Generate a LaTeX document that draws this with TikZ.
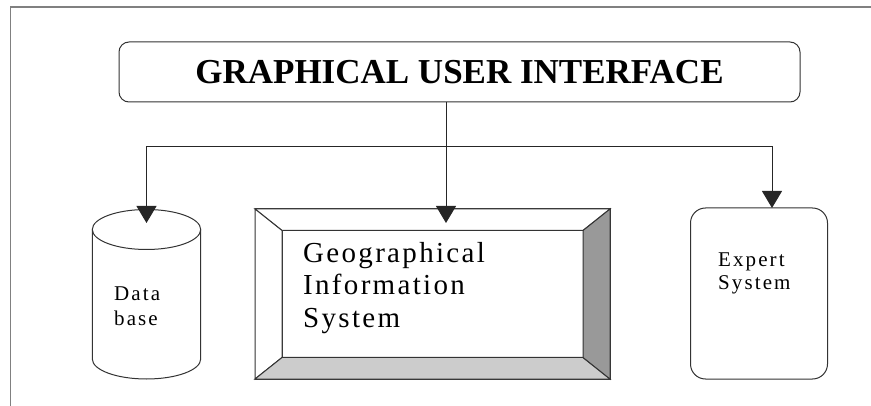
\documentclass[tikz,border=0pt]{standalone}
\usepackage{fontspec}
\setmainfont{Liberation Serif}
\newfontfamily\spcA[LetterSpace=8]{Liberation Serif}
\newfontfamily\spcB[LetterSpace=10]{Liberation Serif}
\usetikzlibrary{arrows.meta}
\definecolor{bevelbot}{HTML}{CCCCCC}
\definecolor{bevelright}{HTML}{999999}
\begin{document}
\begin{tikzpicture}[x=1pt,y=-1pt,
  line/.style={draw=black!80, line width=1pt},
  conn/.style={draw=black!85, line width=1pt, -{Triangle[length=17pt,width=20pt]}},
  lbl/.style={anchor=base west, inner sep=0pt, text=black},
  blank/.style={inner sep=0pt, outer sep=0pt},
  gisfont/.style={font=\spcA\fontsize{29}{32}\selectfont},
  smallfont/.style={font=\spcB\fontsize{21}{24}\selectfont},
]
\useasboundingbox (0,0) rectangle (871,406);
% frame
\draw[draw=black!50, line width=1.5pt] (10.5,406) -- (10.5,7) -- (871,7);
% GUI
\node[line, rounded corners=10pt, blank, minimum width=681pt, minimum height=60pt,
      font=\fontsize{35}{40}\selectfont\bfseries] (gui) at (459.5,72) {GRAPHICAL USER INTERFACE};
% GIS bevel box
\node[line, blank, minimum width=355pt, minimum height=170pt] (gis) at (432.5,294) {};
\node[line, blank, minimum width=301pt, minimum height=127pt] (gisin) at (432.5,294) {};
\filldraw[line, fill=white] (gis.north west) -- (gis.north east) -- (gisin.north east) -- (gisin.north west) -- cycle;
\filldraw[line, fill=white] (gis.north west) -- (gisin.north west) -- (gisin.south west) -- (gis.south west) -- cycle;
\filldraw[line, fill=bevelbot] (gis.south west) -- (gisin.south west) -- (gisin.south east) -- (gis.south east) -- cycle;
\filldraw[line, fill=bevelright] (gis.north east) -- (gis.south east) -- (gisin.south east) -- (gisin.north east) -- cycle;
\node[lbl, gisfont] (gis1) at (303,262.3) {Geographical};
\node[lbl, gisfont] (gis2) at (303,295) {Information};
\node[lbl, gisfont] (gis3) at (303,327.3) {System};
% Database cylinder
\node[blank, minimum width=108.4pt, minimum height=170pt] (db) at (146.5,294) {};
\draw[line, fill=white] (92.3,229.5) -- (92.3,359) arc[start angle=180, end angle=0, x radius=54.2, y radius=20] -- (200.7,229.5);
\draw[line] (146.5,229.5) ellipse[x radius=54.2, y radius=20];
\node[lbl, smallfont] (db1) at (114,300.7) {Data};
\node[lbl, smallfont] (db2) at (114,325.3) {base};
% Expert system
\node[line, rounded corners=15pt, blank, minimum width=137pt, minimum height=171pt] (exp) at (759,293.5) {};
\node[lbl, smallfont] (exp1) at (718,266.7) {Expert};
\node[lbl, smallfont] (exp2) at (718,290) {System};
% connectors
\coordinate (gx) at (446,102);
\coordinate (j) at (446,147);
\coordinate (ex) at (772,208);
\draw[conn] (gx) -- ([yshift=-14pt]gis.north -| gx);
\draw[conn] (j) -| ([yshift=-14pt]db.north);
\draw[conn] (j) -| (ex);
\end{tikzpicture}
\end{document}
